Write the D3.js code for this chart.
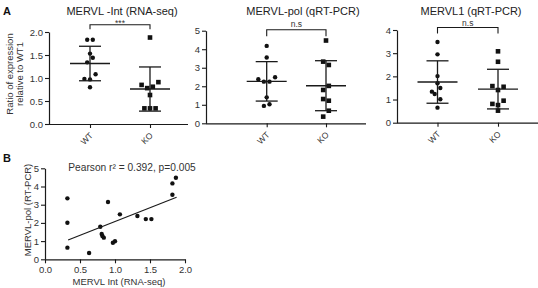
<!DOCTYPE html>
<html><head><meta charset="utf-8">
<script src="https://cdn.jsdelivr.net/npm/d3@7"></script>
<style>
body{margin:0;background:#fff;}
svg{display:block;font-family:"Liberation Sans",Arial,Helvetica,sans-serif;}
</style></head>
<body><svg id="c" width="538" height="288"></svg>
<script>
// ---------- DATA ----------
const groups = ["WT", "KO"];
const titles = ["MERVL -Int (RNA-seq)", "MERVL-pol (qRT-PCR)", "MERVL1 (qRT-PCR)"];
const sigLabels = ["***", "n.s", "n.s"];

const p1WT = [1.83, 1.83, 1.53, 1.44, 1.34, 1.08, 0.98, 0.97, 0.80];
const p1WTcol = [-1, 1, 0, 1, -1, 2, -2, 0, 0];
const p1KO = [1.88, 0.85, 0.91, 0.78, 0.81, 0.63, 0.34, 0.34, 0.34];
const p1KOcol = [0, -3, 3, -1, 1, 0, -2, 0, 2];
const p1Mean = [1.315, 0.76];
const p1SD = [0.375, 0.48];
const p1Ticks = [0, 0.5, 1.0, 1.5, 2.0];

const p2WT = [4.18, 3.55, 2.38, 2.25, 2.25, 2.49, 1.40, 0.94, 1.03];
const p2WTcol = [0, 0, -3, -1, 1, 3, 0, -1, 1];
const p2KO = [4.47, 3.33, 3.15, 2.02, 1.80, 1.31, 1.22, 0.68, 0.36];
const p2KOcol = [0, -1, 1, 1, -1, -1, 1, 1, -1];
const p2Mean = [2.265, 2.03];
const p2SD = [1.065, 1.35];
const p2Ticks = [0, 1, 2, 3, 4, 5];

const p3WT = [3.48, 2.95, 2.01, 1.70, 1.34, 1.24, 1.50, 1.01, 0.65];
const p3WTcol = [0, 0, 0, 0, -2, -1, 1, 1, 0];
const p3KO = [3.08, 2.63, 1.58, 1.55, 1.41, 0.81, 0.95, 0.76, 0.52];
const p3KOcol = [0, 0, -2, 2, 0, -2, 2, 0, 0];
const p3Mean = [1.755, 1.45];
const p3SD = [0.915, 0.855];
const p3Ticks = [0, 1, 2, 3, 4];

const scatX = [0.32, 0.32, 0.32, 0.63, 0.79, 0.81, 0.82, 0.84, 0.90, 0.97, 1.00, 1.07, 1.32, 1.44, 1.52, 1.82, 1.82, 1.87];
const scatY = [3.35, 2.01, 0.64, 0.35, 1.79, 1.39, 1.28, 1.19, 3.15, 0.91, 0.99, 2.47, 2.38, 2.21, 2.21, 3.55, 4.17, 4.48];
const fitX = [0.33, 1.88];
const fitY = [1.06, 3.41];
const scatXTicks = [0, 0.5, 1.0, 1.5, 2.0];
const scatYTicks = [0, 1, 2, 3, 4, 5];
const pearsonText = "Pearson r\u00B2 = 0.392, p=0.005";

// ---------- DRAW ----------
const svg = d3.select("#c");
const ink = "#1a1a1a", txt = "#333";

function dotPanel(o) {
  const g = svg.append("g");
  const y = d3.scaleLinear().domain([0, o.ymax]).range([o.y0, o.y1]);
  const x = d3.scalePoint().domain(groups).range([o.xa, o.xb]);
  const ya = g.append("g").attr("transform", `translate(${o.ax},0)`)
    .call(d3.axisLeft(y).tickValues(o.ticks).tickFormat(o.fmt).tickSize(4).tickSizeOuter(0));
  ya.select(".domain").attr("stroke", ink).attr("stroke-width", 1.2);
  ya.selectAll(".tick line").attr("stroke", ink).attr("stroke-width", 1.1);
  ya.selectAll(".tick text").attr("fill", txt).attr("font-size", 9.5).attr("font-family", "Liberation Sans, Arial, sans-serif").attr("x", -6);
  const xa = g.append("g").attr("transform", `translate(0,${o.y0})`)
    .call(d3.axisBottom(x).tickSize(4).tickSizeOuter(0));
  xa.select(".domain").attr("d", `M${o.ax},0.5H${o.xend}`).attr("stroke", ink).attr("stroke-width", 1.2);
  xa.selectAll(".tick line").attr("stroke", ink).attr("stroke-width", 1.1);
  xa.selectAll(".tick text").attr("fill", txt).attr("font-size", 8.5)
    .attr("font-family", "Liberation Sans, Arial, sans-serif")
    .attr("text-anchor", "end").attr("dy", null).attr("y", 0)
    .attr("transform", "translate(3,12) rotate(-45)");
  const series = [[o.wt, o.wtc, "c"], [o.ko, o.koc, "s"]];
  const unit = 2.8;
  series.forEach((s, gi) => {
    const cx = x(groups[gi]);
    s[0].forEach((v, i) => {
      const px = cx + s[1][i] * unit, py = y(v);
      if (s[2] === "c") g.append("circle").attr("cx", px).attr("cy", py).attr("r", 2.2).attr("fill", "#111");
      else g.append("rect").attr("x", px - 2.3).attr("y", py - 2.3).attr("width", 4.6).attr("height", 4.6).attr("fill", "#111");
    });
    const m = o.mean[gi], sd = o.sd[gi];
    g.append("line").attr("x1", cx - 20).attr("x2", cx + 20).attr("y1", y(m)).attr("y2", y(m)).attr("stroke", ink).attr("stroke-width", 1.4);
    g.append("line").attr("x1", cx).attr("x2", cx).attr("y1", y(m - sd)).attr("y2", y(m + sd)).attr("stroke", ink).attr("stroke-width", 1.3);
    [m - sd, m + sd].forEach(v => g.append("line").attr("x1", cx - 11).attr("x2", cx + 11).attr("y1", y(v)).attr("y2", y(v)).attr("stroke", ink).attr("stroke-width", 1.3));
  });
  const xw = x(groups[0]), xk = x(groups[1]);
  g.append("path").attr("d", `M${xw},${o.bt + o.bd}V${o.bt}H${xk}V${o.bt + o.bd}`).attr("fill", "none").attr("stroke", ink).attr("stroke-width", 1.1);
  g.append("text").attr("x", (xw + xk) / 2).attr("y", o.bt - o.sy).attr("text-anchor", "middle").attr("font-size", 8.5).attr("fill", txt).text(o.sig);
  g.append("text").attr("x", o.tx).attr("y", 15).attr("text-anchor", "middle").attr("font-size", 11).attr("fill", "#222").text(o.title);
}

dotPanel({ax: 49, xend: 188, xa: 90, xb: 150, y0: 124, y1: 32, ymax: 2, ticks: p1Ticks, fmt: d3.format(".1f"),
  wt: p1WT, wtc: p1WTcol, ko: p1KO, koc: p1KOcol, mean: p1Mean, sd: p1SD, bt: 24.7, bd: 4.5, sy: -1.5, sig: sigLabels[0], title: titles[0], tx: 122});
dotPanel({ax: 206, xend: 366, xa: 266.7, xb: 326, y0: 123.3, y1: 30.7, ymax: 5, ticks: p2Ticks, fmt: d3.format("d"),
  wt: p2WT, wtc: p2WTcol, ko: p2KO, koc: p2KOcol, mean: p2Mean, sd: p2SD, bt: 29.8, bd: 6.5, sy: 2.5, sig: sigLabels[1], title: titles[1], tx: 303});
dotPanel({ax: 397, xend: 538, xa: 437.5, xb: 498, y0: 122.7, y1: 30, ymax: 4, ticks: p3Ticks, fmt: d3.format("d"),
  wt: p3WT, wtc: p3WTcol, ko: p3KO, koc: p3KOcol, mean: p3Mean, sd: p3SD, bt: 27.5, bd: 6, sy: 1.5, sig: sigLabels[2], title: titles[2], tx: 471});

svg.append("text").attr("x", 3).attr("y", 15).attr("font-size", 11).attr("font-weight", "bold").attr("fill", "#111").text("A");
svg.append("text").attr("x", 3).attr("y", 162).attr("font-size", 11).attr("font-weight", "bold").attr("fill", "#111").text("B");

const yl = svg.append("text").attr("transform", "translate(13,74) rotate(-90)").attr("text-anchor", "middle").attr("font-size", 9.5).attr("fill", txt);
yl.append("tspan").attr("x", 0).attr("y", 0).text("Ratio of expression");
yl.append("tspan").attr("x", 0).attr("y", 10).text("relative to WT1");

// ---------- scatter B ----------
const sx = d3.scaleLinear().domain([0, 2]).range([45, 185]);
const sy = d3.scaleLinear().domain([0, 5]).range([259.3, 168.3]);
const gb = svg.append("g");
const bya = gb.append("g").attr("transform", "translate(45,0)")
  .call(d3.axisLeft(sy).tickValues(scatYTicks).tickFormat(d3.format("d")).tickSize(4).tickSizeOuter(0));
const bxa = gb.append("g").attr("transform", "translate(0,259.3)")
  .call(d3.axisBottom(sx).tickValues(scatXTicks).tickFormat(d3.format(".1f")).tickSize(4).tickSizeOuter(0));
[bya, bxa].forEach(a => {
  a.select(".domain").attr("stroke", ink).attr("stroke-width", 1.2);
  a.selectAll(".tick line").attr("stroke", ink).attr("stroke-width", 1.1);
  a.selectAll(".tick text").attr("fill", txt).attr("font-size", 9.5).attr("font-family", "Liberation Sans, Arial, sans-serif");
});
bya.selectAll(".tick text").attr("x", -6);
bxa.selectAll(".tick text").attr("y", 7);
gb.selectAll("circle.pt").data(scatX).join("circle").attr("class", "pt")
  .attr("cx", d => sx(d)).attr("cy", (d, i) => sy(scatY[i])).attr("r", 2.2).attr("fill", "#111");
gb.append("line").attr("x1", sx(fitX[0])).attr("y1", sy(fitY[0])).attr("x2", sx(fitX[1])).attr("y2", sy(fitY[1]))
  .attr("stroke", ink).attr("stroke-width", 1.2);
gb.append("text").attr("x", 132).attr("y", 171).attr("text-anchor", "middle").attr("font-size", 10.2).attr("fill", txt).text(pearsonText);
gb.append("text").attr("x", 119).attr("y", 285).attr("text-anchor", "middle").attr("font-size", 9.5).attr("fill", txt).text("MERVL Int (RNA-seq)");
gb.append("text").attr("transform", "translate(31,210) rotate(-90)").attr("text-anchor", "middle").attr("font-size", 9.5).attr("fill", txt).text("MERVL-pol (RT-PCR)");
</script></body></html>
